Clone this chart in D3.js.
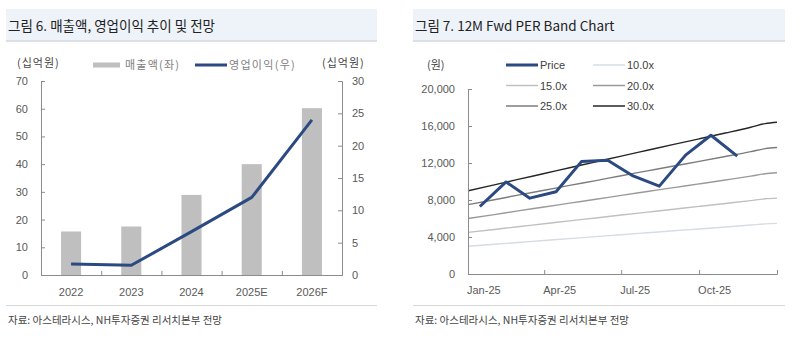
<!DOCTYPE html>
<html>
<head>
<meta charset="utf-8">
<script src="https://cdn.jsdelivr.net/npm/d3@7"></script>
<style>
body { margin: 0; background: #fff; }
svg { display: block; }
</style>
</head>
<body>
<svg id="chart" width="800" height="340"></svg>
<script>
// left chart data
var years = ["2022", "2023", "2024", "2025E", "2026F"];
var sales = [15.7, 17.5, 28.9, 40.0, 60.2];
var opProfit = [1.7, 1.5, 6.7, 12.0, 24.0];
var leftTicks = [0, 10, 20, 30, 40, 50, 60, 70];
var rightTicks = [0, 5, 10, 15, 20, 25, 30];

// right chart data
var priceDates = ["2025-01-15", "2025-02-15", "2025-03-15", "2025-04-15", "2025-05-15", "2025-06-15",
                  "2025-07-15", "2025-08-15", "2025-09-15", "2025-10-15", "2025-11-15"];
var prices = [7300, 9950, 8200, 8900, 12150, 12300, 10600, 9500, 12850, 15000, 12750];
var epsDates = ["2025-01-01", "2025-02-01", "2025-03-01", "2025-04-01", "2025-05-01", "2025-06-01",
                "2025-07-01", "2025-08-01", "2025-09-01", "2025-10-01", "2025-11-01", "2025-12-01",
                "2025-12-18", "2026-01-01"];
var fwdEps = [300, 321, 341, 362, 383, 404, 425, 446, 467, 487, 508, 529, 542, 547];
var multiples = [10, 15, 20, 25, 30];
var bandColors = ["#d6dce4", "#c0c0c0", "#9a9a9a", "#7c7c7c", "#262626"];
var perTicks = [0, 4000, 8000, 12000, 16000, 20000];
var monthTicks = ["2025-01-01", "2025-04-01", "2025-07-01", "2025-10-01"];

var svg = d3.select("#chart");
var korFont = "'Noto Sans CJK KR', 'Noto Sans', sans-serif";
var numFont = "'Liberation Sans Narrow', 'Arial Narrow', 'Liberation Sans', Arial, sans-serif";
var axisColor = "#8c8c8c", labelColor = "#595959";
var blue = "#2b4a82";
var parse = d3.timeParse("%Y-%m-%d");

// panel frames: title box + footer
function panelFrame(x0, x1, title) {
    svg.append("rect").attr("x", x0).attr("y", 9).attr("width", x1 - x0).attr("height", 32)
        .attr("fill", "#eef2f9");
    svg.append("line").attr("x1", x0).attr("x2", x1).attr("y1", 41).attr("y2", 41)
        .attr("stroke", "#d5d8dd").attr("stroke-width", 1.5);
    svg.append("text").attr("x", x0 + 2).attr("y", 31)
        .style("font-family", korFont).style("font-size", "13.5px").attr("fill", "#222")
        .text(title);
    svg.append("line").attr("x1", x0).attr("x2", x1).attr("y1", 305.5).attr("y2", 305.5)
        .attr("stroke", "#d9d9d9").attr("stroke-width", 1);
    svg.append("text").attr("x", x0 + 2).attr("y", 324)
        .style("font-family", korFont).style("font-size", "10.5px").attr("fill", "#444")
        .text("자료: 아스테라시스, NH투자증권 리서치본부 전망");
}
panelFrame(6, 377, "그림 6. 매출액, 영업이익 추이 및 전망");
panelFrame(413, 785, "그림 7. 12M Fwd PER Band Chart");

// ---------- left chart ----------
var L = {left: 41, right: 342, top: 81, bottom: 275};
var x = d3.scaleBand().domain(years).range([L.left, L.right]).paddingInner(0.667).paddingOuter(0.333);
var yL = d3.scaleLinear().domain([0, 70]).range([L.bottom, L.top]);
var yR = d3.scaleLinear().domain([0, 30]).range([L.bottom, L.top]);
var g1 = svg.append("g");

g1.selectAll(".bar").data(sales).enter().append("rect")
    .attr("x", function(d, i) { return x(years[i]); })
    .attr("y", function(d) { return yL(d); })
    .attr("width", x.bandwidth())
    .attr("height", function(d) { return L.bottom - yL(d); })
    .attr("fill", "#bfbfbf");

var line1 = d3.line()
    .x(function(d, i) { return x(years[i]) + x.bandwidth() / 2; })
    .y(function(d) { return yR(d); });
g1.append("path").datum(opProfit).attr("d", line1)
    .attr("fill", "none").attr("stroke", blue).attr("stroke-width", 3).attr("stroke-linejoin", "round");

// axes
var axL = g1.append("g").attr("transform", "translate(" + L.left + ",0)")
    .call(d3.axisRight(yL).tickValues(leftTicks).tickSize(4).tickFormat(""));
var axR = g1.append("g").attr("transform", "translate(" + L.right + ",0)")
    .call(d3.axisLeft(yR).tickValues(rightTicks).tickSize(4).tickFormat(""));
var step = x.step();
var xEdges = d3.range(years.length + 1).map(function(i) { return L.left + i * step; });
var axB = g1.append("g").attr("transform", "translate(0," + L.bottom + ")")
    .call(d3.axisTop(d3.scaleLinear().domain([L.left, L.right]).range([L.left, L.right]))
        .tickValues(xEdges).tickSize(4).tickFormat(""));
[axL, axR, axB].forEach(function(a) {
    a.selectAll("path, line").attr("stroke", axisColor);
});

g1.selectAll(".ylab").data(leftTicks).enter().append("text")
    .attr("x", 28).attr("y", function(d) { return yL(d) + 4; })
    .attr("text-anchor", "end")
    .style("font-family", numFont).style("font-size", "11px").attr("fill", labelColor)
    .text(function(d) { return d; });
g1.selectAll(".yrlab").data(rightTicks).enter().append("text")
    .attr("x", 352).attr("y", function(d) { return yR(d) + 4; })
    .style("font-family", numFont).style("font-size", "11px").attr("fill", labelColor)
    .text(function(d) { return d; });
g1.selectAll(".xlab").data(years).enter().append("text")
    .attr("x", function(d) { return x(d) + x.bandwidth() / 2; }).attr("y", 296)
    .attr("text-anchor", "middle")
    .style("font-family", numFont).style("font-size", "11px").attr("fill", labelColor)
    .text(function(d) { return d; });

// units + legend
g1.append("text").attr("x", 17).attr("y", 67).style("letter-spacing", "1px")
    .style("font-family", korFont).style("font-size", "11px").attr("fill", "#444").text("(십억원)");
g1.append("text").attr("x", 322).attr("y", 67).style("letter-spacing", "1px")
    .style("font-family", korFont).style("font-size", "11px").attr("fill", "#444").text("(십억원)");
g1.append("rect").attr("x", 93).attr("y", 62.5).attr("width", 27).attr("height", 5).attr("fill", "#bfbfbf");
g1.append("text").attr("x", 125).attr("y", 69).style("letter-spacing", "1.2px")
    .style("font-family", korFont).style("font-size", "11px").attr("fill", "#808080").text("매출액(좌)");
g1.append("line").attr("x1", 195).attr("x2", 227).attr("y1", 65).attr("y2", 65)
    .attr("stroke", blue).attr("stroke-width", 3);
g1.append("text").attr("x", 229).attr("y", 69).style("letter-spacing", "1.3px")
    .style("font-family", korFont).style("font-size", "11px").attr("fill", "#808080").text("영업이익(우)");

// ---------- right chart ----------
var R = {left: 468, right: 777, top: 89, bottom: 274};
var xt = d3.scaleTime().domain([parse("2025-01-01"), parse("2026-01-01")]).range([R.left, R.right]);
var yp = d3.scaleLinear().domain([0, 20000]).range([R.bottom, R.top]);
var g2 = svg.append("g");

multiples.forEach(function(m, k) {
    var band = d3.line()
        .x(function(d, i) { return xt(parse(epsDates[i])); })
        .y(function(d) { return yp(d * m); })
        .curve(d3.curveMonotoneX);
    g2.append("path").datum(fwdEps).attr("d", band)
        .attr("fill", "none").attr("stroke", bandColors[k]).attr("stroke-width", 1.4);
});
var priceLine = d3.line()
    .x(function(d, i) { return xt(parse(priceDates[i])); })
    .y(function(d) { return yp(d); });
g2.append("path").datum(prices).attr("d", priceLine)
    .attr("fill", "none").attr("stroke", blue).attr("stroke-width", 3).attr("stroke-linejoin", "round");

var axP = g2.append("g").attr("transform", "translate(" + R.left + ",0)")
    .call(d3.axisRight(yp).tickValues(perTicks).tickSize(4).tickFormat(""));
var qTicks = monthTicks.map(parse).concat([parse("2026-01-01")]);
var axT = g2.append("g").attr("transform", "translate(0," + R.bottom + ")")
    .call(d3.axisTop(xt).tickValues(qTicks).tickSize(4).tickFormat(""));
[axP, axT].forEach(function(a) {
    a.selectAll("path, line").attr("stroke", axisColor);
});

g2.selectAll(".plab").data(perTicks).enter().append("text")
    .attr("x", 455).attr("y", function(d) { return yp(d) + 4; })
    .attr("text-anchor", "end")
    .style("font-family", numFont).style("font-size", "11px").attr("fill", labelColor)
    .text(d3.format(","));
var fmtMonth = d3.timeFormat("%b-%y");
g2.selectAll(".tlab").data(monthTicks).enter().append("text")
    .attr("x", function(d) { return xt(parse(d)) - 1; }).attr("y", 294)
    .style("font-family", numFont).style("font-size", "11px").attr("fill", labelColor)
    .text(function(d) { return fmtMonth(parse(d)); });

g2.append("text").attr("x", 427).attr("y", 69)
    .style("font-family", korFont).style("font-size", "11px").attr("fill", "#444").text("(원)");

// legend: price first, then bands, two columns
var legendItems = [{label: "Price", color: blue, w: 3}].concat(multiples.map(function(m, k) {
    return {label: m.toFixed(1) + "x", color: bandColors[k], w: 1.5};
}));
legendItems.forEach(function(d, i) {
    var lx = (i % 2 === 0) ? 506 : 593;
    var ly = 65 + Math.floor(i / 2) * 20.5;
    g2.append("line").attr("x1", lx).attr("x2", lx + 32).attr("y1", ly).attr("y2", ly)
        .attr("stroke", d.color).attr("stroke-width", d.w);
    g2.append("text").attr("x", lx + 34).attr("y", ly + 4)
        .style("font-family", numFont).style("font-size", "11px").attr("fill", "#404040")
        .text(d.label);
});
</script>
</body>
</html>
